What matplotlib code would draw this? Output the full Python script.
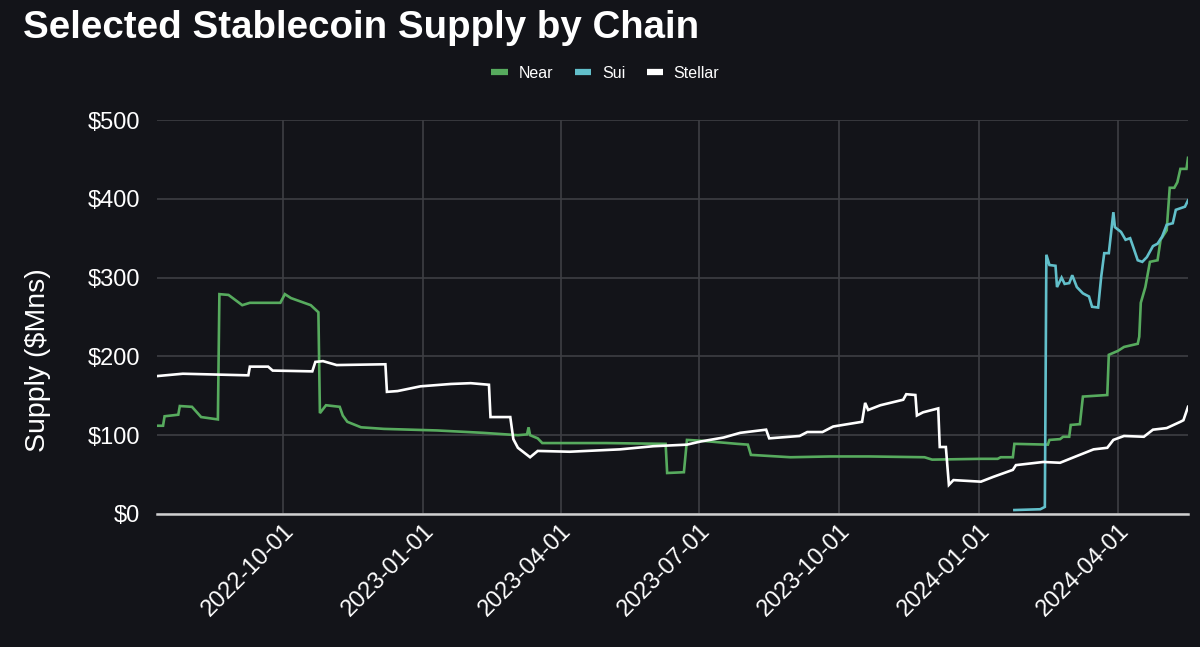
import matplotlib
matplotlib.use("Agg")
import matplotlib.pyplot as plt
import matplotlib.dates as mdates
from matplotlib.lines import Line2D
import pandas as pd

# ---------------- data ----------------
near_dates = ["2022-07-10", "2022-07-14", "2022-07-15", "2022-07-24", "2022-07-25", "2022-08-02",
              "2022-08-08", "2022-08-19", "2022-08-20", "2022-08-26", "2022-09-04", "2022-09-09",
              "2022-09-29", "2022-10-02", "2022-10-06", "2022-10-19", "2022-10-24", "2022-10-25",
              "2022-10-29", "2022-11-07", "2022-11-09", "2022-11-12", "2022-11-21", "2022-12-06",
              "2023-01-10", "2023-02-09", "2023-03-04", "2023-03-10", "2023-03-11", "2023-03-12",
              "2023-03-17", "2023-03-20", "2023-05-01", "2023-06-09", "2023-06-10", "2023-06-21",
              "2023-06-23", "2023-07-02", "2023-07-26", "2023-08-02", "2023-08-04", "2023-08-30",
              "2023-09-25", "2023-10-21", "2023-11-26", "2023-12-01", "2024-01-02", "2024-01-13",
              "2024-01-15", "2024-01-23", "2024-01-24", "2024-02-15", "2024-02-16", "2024-02-23",
              "2024-02-25", "2024-02-29", "2024-03-01", "2024-03-07", "2024-03-09", "2024-03-25",
              "2024-03-26", "2024-04-01", "2024-04-05", "2024-04-14", "2024-04-15", "2024-04-16",
              "2024-04-19", "2024-04-22", "2024-04-27", "2024-04-29", "2024-05-03", "2024-05-05",
              "2024-05-08", "2024-05-10", "2024-05-12", "2024-05-16", "2024-05-17"]
near_values = [112, 112, 124, 126, 137, 136,
               123, 120, 279, 278, 265, 268,
               268, 279, 274, 265, 256, 128,
               138, 136, 125, 117, 110, 108,
               106, 103, 100, 101, 110, 100,
               96, 90, 90, 89, 52, 53,
               94, 93, 89, 88, 75, 72,
               73, 73, 72, 69, 70, 70,
               72, 72, 89, 88, 94, 95,
               98, 98, 113, 114, 149, 151,
               202, 207, 212, 216, 225, 268,
               288, 320, 322, 348, 360, 414,
               414, 421, 438, 438, 452]

sui_dates = ["2024-01-24", "2024-02-10", "2024-02-13", "2024-02-14", "2024-02-16", "2024-02-20",
             "2024-02-21", "2024-02-24", "2024-02-26", "2024-02-29", "2024-03-02", "2024-03-05",
             "2024-03-09", "2024-03-13", "2024-03-15", "2024-03-19", "2024-03-21", "2024-03-23",
             "2024-03-26", "2024-03-29", "2024-03-30", "2024-04-03", "2024-04-06", "2024-04-09",
             "2024-04-11", "2024-04-14", "2024-04-17", "2024-04-20", "2024-04-24", "2024-04-27",
             "2024-04-30", "2024-05-03", "2024-05-07", "2024-05-09", "2024-05-12", "2024-05-15",
             "2024-05-17"]
sui_values = [5, 6, 9, 329, 316, 315,
              288, 300, 292, 293, 303, 288,
              280, 276, 263, 262, 301, 331,
              331, 383, 364, 358, 348, 350,
              339, 322, 320, 326, 340, 343,
              352, 367, 369, 386, 388, 390,
              398]

stellar_dates = ["2022-07-10", "2022-07-27", "2022-09-07", "2022-09-08", "2022-09-09", "2022-09-21",
                 "2022-09-24", "2022-10-20", "2022-10-22", "2022-10-27", "2022-11-05", "2022-12-07",
                 "2022-12-08", "2022-12-15", "2022-12-30", "2023-01-19", "2023-02-01", "2023-02-13",
                 "2023-02-14", "2023-02-27", "2023-03-01", "2023-03-04", "2023-03-12", "2023-03-17",
                 "2023-04-07", "2023-05-10", "2023-06-01", "2023-06-23", "2023-07-02", "2023-07-17",
                 "2023-07-28", "2023-08-14", "2023-08-16", "2023-09-05", "2023-09-10", "2023-09-20",
                 "2023-09-27", "2023-10-16", "2023-10-18", "2023-10-20", "2023-10-28", "2023-11-12",
                 "2023-11-14", "2023-11-20", "2023-11-21", "2023-11-25", "2023-12-05", "2023-12-06",
                 "2023-12-10", "2023-12-12", "2023-12-15", "2024-01-02", "2024-01-10", "2024-01-23",
                 "2024-01-25", "2024-02-12", "2024-02-23", "2024-03-03", "2024-03-16", "2024-03-25",
                 "2024-03-29", "2024-04-05", "2024-04-18", "2024-04-24", "2024-05-03", "2024-05-12",
                 "2024-05-14", "2024-05-17"]
stellar_values = [175, 178, 176, 176, 187, 187,
                  182, 181, 193, 194, 189, 190,
                  155, 156, 162, 165, 166, 164,
                  123, 123, 95, 84, 72, 80,
                  79, 82, 86, 88, 92, 97,
                  103, 107, 96, 99, 104, 104,
                  111, 117, 141, 132, 138, 145,
                  152, 151, 125, 129, 134, 85,
                  85, 37, 43, 41, 47, 56,
                  62, 66, 65, 72, 82, 84,
                  94, 99, 98, 107, 109, 117,
                  119, 136]

series_names = ["Near", "Sui", "Stellar"]
tick_dates = ["2022-10-01", "2023-01-01", "2023-04-01", "2023-07-01",
              "2023-10-01", "2024-01-01", "2024-04-01"]
y_ticks = [0, 100, 200, 300, 400, 500]

# ---------------- style ----------------
BG = "#131419"
GRID = "#3e3f44"
colors = ["#57ab5e", "#62bfca", "#ffffff"]
plt.rcParams["font.family"] = ["Liberation Sans", "DejaVu Sans"]

fig = plt.figure(figsize=(12, 6.47), dpi=100, facecolor=BG)
ax = fig.add_axes([0.1308, 0.2056, 0.8592, 0.6089], facecolor=BG)

series = [(near_dates, near_values), (sui_dates, sui_values), (stellar_dates, stellar_values)]
for (d, v), c, n in zip(series, colors, series_names):
    ax.plot(pd.to_datetime(d), v, color=c, lw=1.9, label=n, solid_joinstyle="miter")

ax.set_xlim(pd.Timestamp("2022-07-10"), pd.Timestamp("2024-05-17"))
ax.set_ylim(0, 500)
ax.set_yticks(y_ticks)
ax.set_yticklabels([f"${t}" for t in y_ticks])
ax.set_xticks(pd.to_datetime(tick_dates))
ax.xaxis.set_major_formatter(mdates.DateFormatter("%Y-%m-%d"))

ax.grid(True, color=GRID, lw=1.2)
ax.set_axisbelow(True)
for s in ["top", "right", "left"]:
    ax.spines[s].set_visible(False)
ax.spines["bottom"].set_color("#d0d0d0")
ax.spines["bottom"].set_linewidth(1.8)

ax.tick_params(axis="both", length=0, colors="white", labelsize=17)
ax.tick_params(axis="y", pad=12)
ax.tick_params(axis="x", pad=4)
for lab in ax.get_xticklabels():
    lab.set_rotation(45)
    lab.set_ha("right")
    lab.set_rotation_mode("anchor")

ax.set_ylabel("Supply ($Mns)", color="white", fontsize=20.5)
ax.yaxis.set_label_coords(-0.103, 0.39)

fig.text(0.019, 0.985, "Selected Stablecoin Supply by Chain", color="white",
         fontsize=27.7, fontweight="bold", ha="left", va="top")

handles = [Line2D([0], [0], color=c, lw=4.5, solid_capstyle="butt") for c in colors]
leg = fig.legend(handles, series_names, loc="center", bbox_to_anchor=(0.5045, 0.887),
                 ncol=3, frameon=False, fontsize=11.5, handlelength=1.05,
                 columnspacing=1.35, handletextpad=0.65, labelcolor="white")

fig.savefig("out.png", dpi=100, facecolor=BG)
